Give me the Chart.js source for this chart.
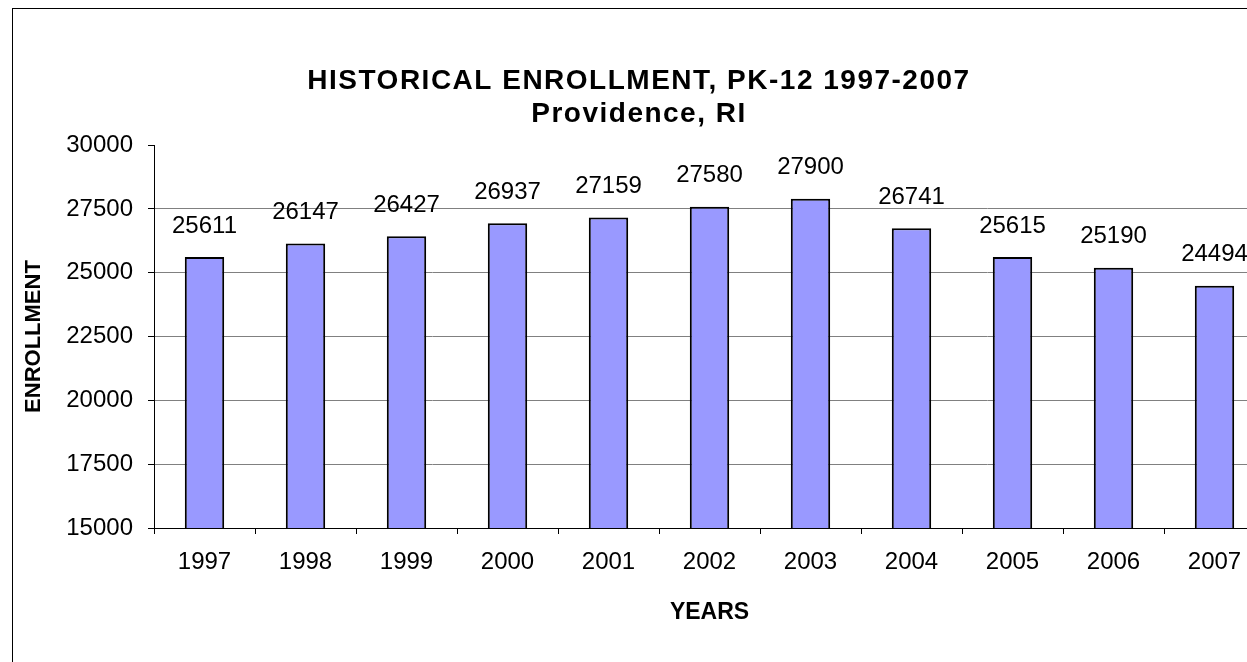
<!DOCTYPE html>
<html>
<head>
<meta charset="utf-8">
<title>Historical Enrollment, PK-12 1997-2007</title>
<script src="https://cdn.jsdelivr.net/npm/chart.js@4"></script>
<style>
  html, body { margin: 0; padding: 0; background: #fff; overflow: hidden; }
  #frame {
    position: absolute;
    left: 12px;
    top: 8px;
    border-left: 1px solid #000;
    border-top: 1px solid #000;
  }
  #enrollChart { display: block; }
</style>
</head>
<body>
<div id="frame">
  <canvas id="enrollChart" width="1257" height="660"></canvas>
</div>
<script>
// data
const years = ['1997', '1998', '1999', '2000', '2001', '2002', '2003', '2004', '2005', '2006', '2007'];
const enrollment = [25611, 26147, 26427, 26937, 27159, 27580, 27900, 26741, 25615, 25190, 24494];
const yTicks = [15000, 17500, 20000, 22500, 25000, 27500, 30000];

const FONT = "'Liberation Sans', Arial, sans-serif";

// value labels above each bar
const barValues = {
    id: 'barValues',
    afterDatasetsDraw(chart) {
        const ctx = chart.ctx;
        const meta = chart.getDatasetMeta(0);
        ctx.save();
        ctx.font = '24px ' + FONT;
        ctx.fillStyle = '#000';
        ctx.textAlign = 'center';
        ctx.textBaseline = 'middle';
        meta.data.forEach((bar, i) => {
            ctx.fillText(String(enrollment[i]), bar.x, bar.y - 31);
        });
        ctx.restore();
    }
};

const ctx = document.getElementById('enrollChart').getContext('2d');
const enrollChart = new Chart(ctx, {
    type: 'bar',
    data: {
        labels: years,
        datasets: [{
            data: enrollment,
            backgroundColor: '#9999FF',
            borderColor: '#000000',
            borderWidth: 2,
            borderSkipped: false,
            categoryPercentage: 1,
            barPercentage: 0.39
        }]
    },
    options: {
        responsive: false,
        animation: false,
        layout: {
            padding: { left: 0, right: 5, top: 0, bottom: 41 }
        },
        plugins: {
            legend: { display: false },
            tooltip: { enabled: false },
            title: {
                display: true,
                text: ['HISTORICAL ENROLLMENT, PK-12 1997-2007', 'Providence, RI'],
                color: '#000',
                font: { size: 28, weight: 'bold', family: FONT, lineHeight: 1.18 },
                padding: { top: 55.5, bottom: 14.5 }
            }
        },
        scales: {
            x: {
                grid: {
                    display: true,
                    drawOnChartArea: false,
                    drawTicks: true,
                    offset: true,
                    tickLength: 6,
                    tickColor: '#000'
                },
                border: { color: '#000', width: 1 },
                ticks: {
                    color: '#000',
                    font: { size: 24, family: FONT },
                    padding: 14
                },
                title: {
                    display: true,
                    text: 'YEARS',
                    color: '#000',
                    font: { size: 23, weight: 'bold', family: FONT },
                    padding: { top: 0, bottom: 2 }
                },
                afterFit(scale) { scale.height = 100; }
            },
            y: {
                min: 15000,
                max: 30000,
                afterBuildTicks(scale) {
                    scale.ticks = yTicks.map(v => ({ value: v }));
                },
                grid: {
                    color: c => (c.tick && (c.tick.value === 30000 || c.tick.value === 15000)) ? 'rgba(0,0,0,0)' : '#808080',
                    tickColor: '#000',
                    tickLength: 6,
                    lineWidth: 1
                },
                border: { color: '#000', width: 1 },
                ticks: {
                    color: '#000',
                    font: { size: 24, family: FONT },
                    padding: 15,
                    callback: v => String(v)
                },
                title: {
                    display: true,
                    text: 'ENROLLMENT',
                    color: '#000',
                    font: { size: 22, weight: 'bold', family: FONT },
                    padding: { top: 8, bottom: 0 }
                },
                afterFit(scale) { scale.width = 141; }
            }
        }
    },
    plugins: [barValues]
});

// Excel spreads the title letters a little
const titleDraw = enrollChart.titleBlock.draw;
enrollChart.titleBlock.draw = function () {
    const c = this.ctx;
    c.letterSpacing = '1.5px';
    titleDraw.apply(this, arguments);
    c.letterSpacing = '0px';
};
enrollChart.update();
</script>
</body>
</html>
